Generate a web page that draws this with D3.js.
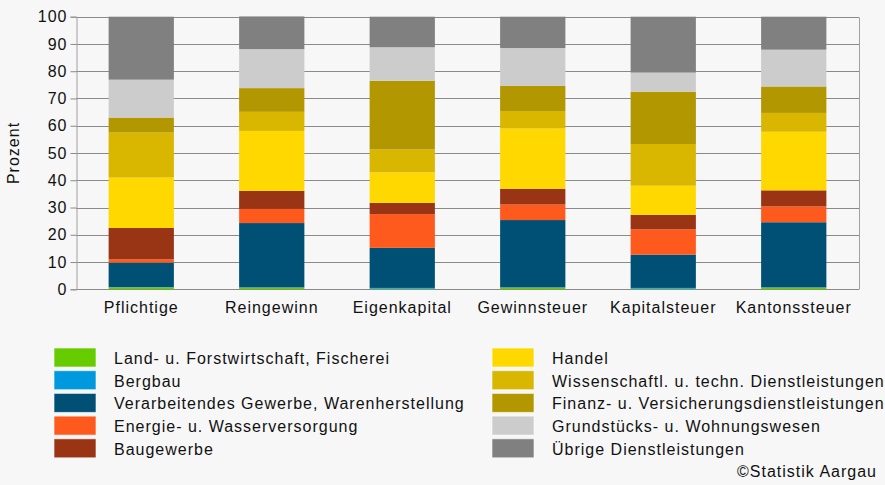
<!DOCTYPE html>
<html>
<head>
<meta charset="utf-8">
<script src="https://cdn.jsdelivr.net/npm/d3@7"></script>
<style>
    body { margin: 0; background: #f7f7f7; }
    svg { display: block; font-family: "Liberation Sans", Arial, sans-serif; }
    svg text { letter-spacing: 1px; }
</style>
</head>
<body>
<script>
//categories on the x axis
var categories = ["Pflichtige", "Reingewinn", "Eigenkapital", "Gewinnsteuer", "Kapitalsteuer", "Kantonssteuer"];

//series names (bottom to top)
var seriesNames = [
    "Land- u. Forstwirtschaft, Fischerei",
    "Bergbau",
    "Verarbeitendes Gewerbe, Warenherstellung",
    "Energie- u. Wasserversorgung",
    "Baugewerbe",
    "Handel",
    "Wissenschaftl. u. techn. Dienstleistungen",
    "Finanz- u. Versicherungsdienstleistungen",
    "Grundstücks- u. Wohnungswesen",
    "Übrige Dienstleistungen"
];

var seriesColors = ["#66cc00", "#0099dd", "#005075", "#ff5a1e", "#993514",
    "#ffd800", "#d9b600", "#b39700", "#cccccc", "#808080"];

//values in percent, one array per series, in category order
var landwirtschaft = [0.7, 0.6, 0.2, 0.6, 0.2, 0.6];
var bergbau        = [0.1, 0.1, 0.3, 0.1, 0.3, 0.1];
var verarbeitend   = [9.0, 23.6, 14.7, 24.7, 12.2, 23.9];
var energie        = [1.2, 5.2, 12.4, 5.7, 9.3, 5.8];
var baugewerbe     = [11.5, 6.6, 4.1, 5.8, 5.3, 5.9];
var handel         = [18.5, 22.0, 11.2, 22.1, 10.7, 21.5];
var wissenschaft   = [16.5, 7.0, 8.4, 6.4, 15.3, 6.9];
var finanz         = [5.5, 8.7, 25.2, 9.2, 19.2, 9.7];
var grundstueck    = [13.9, 14.3, 12.3, 13.9, 7.0, 13.5];
var uebrige        = [23.1, 12.0, 11.2, 11.5, 20.5, 12.1];

var yTicks = [0, 10, 20, 30, 40, 50, 60, 70, 80, 90, 100];

window.onload = drawChart();

function drawChart() {
    var width = 885,
        height = 485;

    var plot = { left: 76, right: 859, top: 16.7, bottom: 289.3 };

    var svg = d3.select("body")
        .append("svg")
        .attr("width", width)
        .attr("height", height);

    var allSeries = [landwirtschaft, bergbau, verarbeitend, energie, baugewerbe,
        handel, wissenschaft, finanz, grundstueck, uebrige];

    //build rows for d3.stack
    var rows = categories.map(function(c, i) {
        var row = { cat: c };
        seriesNames.forEach(function(s, j) { row[s] = allSeries[j][i]; });
        return row;
    });

    var stacked = d3.stack().keys(seriesNames)(rows);

    var x = d3.scaleBand()
        .domain(categories)
        .range([plot.left, plot.right])
        .paddingInner(0.5)
        .paddingOuter(0.25);

    var y = d3.scaleLinear()
        .domain([0, 100])
        .range([plot.bottom, plot.top]);

    //gridlines
    svg.append("g")
        .selectAll("line")
        .data(yTicks)
        .enter()
        .append("line")
        .attr("x1", plot.left)
        .attr("x2", plot.right)
        .attr("y1", function(d) { return Math.round(y(d)) + 0.5; })
        .attr("y2", function(d) { return Math.round(y(d)) + 0.5; })
        .attr("stroke", "#8a8a8a")
        .attr("stroke-width", 1);

    //right border
    svg.append("line")
        .attr("x1", plot.right + 0.5).attr("x2", plot.right + 0.5)
        .attr("y1", Math.round(plot.top) + 0.5).attr("y2", Math.round(plot.bottom) + 0.5)
        .attr("stroke", "#a0a0a0");

    //bars
    svg.append("g")
        .selectAll("g")
        .data(stacked)
        .enter()
        .append("g")
        .attr("fill", function(d, i) { return seriesColors[i]; })
        .selectAll("rect")
        .data(function(d) { return d; })
        .enter()
        .append("rect")
        .attr("x", function(d) { return x(d.data.cat); })
        .attr("width", x.bandwidth())
        .attr("y", function(d) { return y(d[1]); })
        .attr("height", function(d) { return y(d[0]) - y(d[1]); });

    //y axis
    var yAxis = svg.append("g")
        .attr("transform", "translate(" + (plot.left + 0.5) + ",0)")
        .call(d3.axisLeft(y).tickValues(yTicks).tickSize(6).tickPadding(3));
    yAxis.select(".domain").attr("stroke", "#a0a0a0");
    yAxis.selectAll(".tick line").attr("stroke", "#8a8a8a");
    yAxis.selectAll("text")
        .attr("font-size", 16)
        .attr("fill", "#111")
        .style("font-family", "Liberation Sans, Arial, sans-serif");

    //x axis labels
    var xAxis = svg.append("g")
        .attr("transform", "translate(0," + plot.bottom + ")")
        .call(d3.axisBottom(x).tickSize(0).tickPadding(12));
    xAxis.select(".domain").remove();
    xAxis.selectAll("text")
        .attr("font-size", 16)
        .attr("fill", "#111")
        .style("font-family", "Liberation Sans, Arial, sans-serif");

    //y axis title
    svg.append("text")
        .attr("transform", "translate(19," + ((plot.top + plot.bottom) / 2) + ") rotate(-90)")
        .attr("text-anchor", "middle")
        .attr("font-size", 16)
        .attr("fill", "#111")
        .text("Prozent");

    //legend
    var legend = svg.append("g");
    var items = legend.selectAll("g")
        .data(seriesNames)
        .enter()
        .append("g")
        .attr("transform", function(d, i) {
            var col = i < 5 ? 0 : 1,
                row = i % 5;
            return "translate(" + (col === 0 ? 54 : 492) + "," + (348 + row * 22.7) + ")";
        });

    items.append("rect")
        .attr("width", 42)
        .attr("height", 19)
        .attr("fill", function(d, i) { return seriesColors[i]; })
        .attr("stroke", "#ffffff")
        .attr("stroke-opacity", 0.6);

    items.append("text")
        .attr("x", 60)
        .attr("y", 16)
        .attr("font-size", 16)
        .attr("fill", "#111")
        .text(function(d) { return d; });

    //source
    svg.append("text")
        .attr("x", 877)
        .attr("y", 477)
        .attr("text-anchor", "end")
        .attr("font-size", 16)
        .attr("fill", "#111")
        .text("©Statistik Aargau");
}
</script>
</body>
</html>
